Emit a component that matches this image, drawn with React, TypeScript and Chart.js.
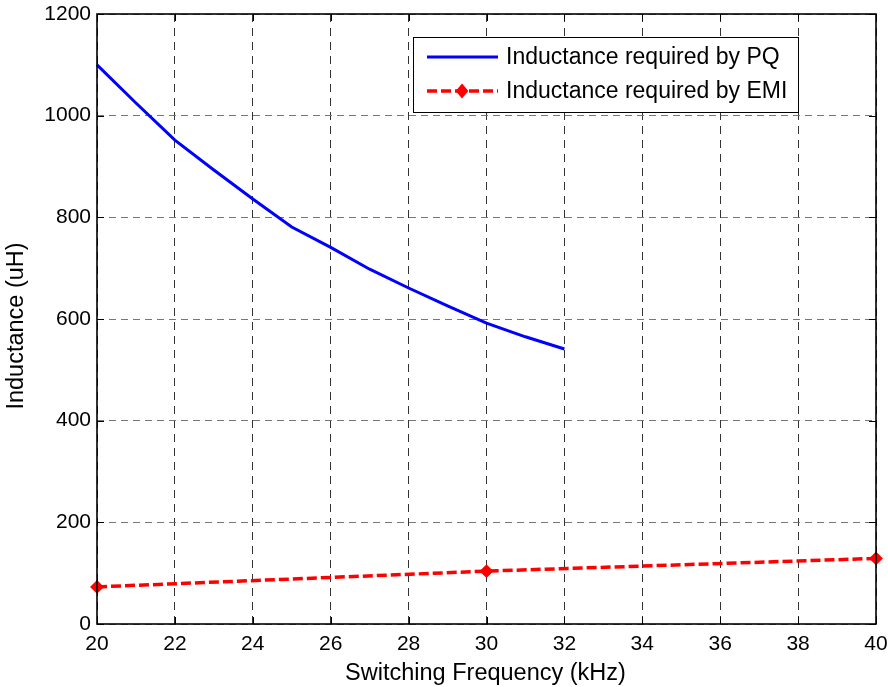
import React, { useEffect, useRef } from "react";
import { Chart, registerables } from "chart.js";

Chart.register(...registerables);

// ---- data ----
const pqFreq = [20, 21, 22, 23, 24, 25, 26, 27, 28, 29, 30, 31, 32];
const pqInductance = [1100, 1025, 952, 893, 836, 781, 741, 698, 661, 626, 592, 565, 541];
const emiFreq = [20, 30, 40];
const emiInductance = [73, 104, 129];
const xTicks = [20, 22, 24, 26, 28, 30, 32, 34, 36, 38, 40];
const yTicks = [0, 200, 400, 600, 800, 1000, 1200];
const seriesLabels = ["Inductance required by PQ", "Inductance required by EMI"];
const xTitle = "Switching Frequency (kHz)";
const yTitle = "Inductance (uH)";

const FONT = '"Liberation Sans", Arial, Helvetica, sans-serif';

const framePlugin = {
  id: "frame",
  afterDatasetsDraw(chart: any) {
    const { ctx, chartArea } = chart;
    const { left, right, top, bottom } = chartArea;
    const xs = chart.scales.x;
    const ys = chart.scales.y;
    ctx.save();
    // inward ticks
    ctx.strokeStyle = "#000";
    ctx.lineWidth = 1;
    const tl = 7;
    xTicks.forEach((v) => {
      const px = Math.round(xs.getPixelForValue(v)) + 0.5;
      ctx.beginPath();
      ctx.moveTo(px, bottom);
      ctx.lineTo(px, bottom - tl);
      ctx.moveTo(px, top);
      ctx.lineTo(px, top + tl);
      ctx.stroke();
    });
    yTicks.forEach((v) => {
      const py = Math.round(ys.getPixelForValue(v)) + 0.5;
      ctx.beginPath();
      ctx.moveTo(left, py);
      ctx.lineTo(left + tl, py);
      ctx.moveTo(right, py);
      ctx.lineTo(right - tl, py);
      ctx.stroke();
    });
    // box
    ctx.lineWidth = 1.6;
    ctx.strokeStyle = "#000";
    ctx.strokeRect(left, top, right - left, bottom - top);

    // titles
    ctx.fillStyle = "#000";
    ctx.font = `23.5px ${FONT}`;
    ctx.textAlign = "center";
    ctx.textBaseline = "middle";
    ctx.fillText(xTitle, (left + right) / 2 - 1, 674);
    ctx.save();
    ctx.translate(17, 326);
    ctx.rotate(-Math.PI / 2);
    ctx.fillText(yTitle, 0, 0);
    ctx.restore();

    // legend
    const lx = 413, ly = 37, lw = 385, lh = 75;
    ctx.fillStyle = "#fff";
    ctx.fillRect(lx, ly, lw, lh);
    ctx.lineWidth = 1;
    ctx.strokeStyle = "#000";
    ctx.strokeRect(lx + 0.5, ly + 0.5, lw, lh);
    const ds = chart.data.datasets;
    const rows = [57, 91];
    rows.forEach((ry, i) => {
      const d = ds[i];
      ctx.save();
      ctx.strokeStyle = d.borderColor;
      ctx.lineWidth = d.borderWidth;
      ctx.setLineDash(d.borderDash || []);
      ctx.beginPath();
      ctx.moveTo(427, ry);
      ctx.lineTo(498, ry);
      ctx.stroke();
      ctx.restore();
      if (d.pointRadius > 0) {
        ctx.save();
        ctx.fillStyle = d.pointBackgroundColor;
        ctx.strokeStyle = d.pointBorderColor;
        ctx.lineWidth = 2;
        const cx = 462, r = 5;
        ctx.beginPath();
        ctx.moveTo(cx, ry - r - 1);
        ctx.lineTo(cx + r, ry);
        ctx.lineTo(cx, ry + r + 1);
        ctx.lineTo(cx - r, ry);
        ctx.closePath();
        ctx.fill();
        ctx.stroke();
        ctx.restore();
      }
      ctx.fillStyle = "#000";
      ctx.font = `23px ${FONT}`;
      ctx.textAlign = "left";
      ctx.textBaseline = "middle";
      ctx.fillText(d.label, 506, ry + 1);
    });
    ctx.restore();
  },
};

export default function App() {
  const ref = useRef<HTMLCanvasElement | null>(null);
  useEffect(() => {
    if (!ref.current) return;
    const chart = new Chart(ref.current, {
      type: "line",
      data: {
        datasets: [
          {
            label: seriesLabels[0],
            data: pqFreq.map((x, i) => ({ x, y: pqInductance[i] })),
            borderColor: "#0000ff",
            backgroundColor: "#0000ff",
            borderWidth: 3,
            pointRadius: 0,
            tension: 0,
            clip: false as any,
          },
          {
            label: seriesLabels[1],
            data: emiFreq.map((x, i) => ({ x, y: emiInductance[i] })),
            borderColor: "#ff0000",
            backgroundColor: "#ff0000",
            borderWidth: 3.5,
            borderDash: [10, 4],
            pointRadius: 5.5,
            pointStyle: "rectRot",
            pointBackgroundColor: "#ff0000",
            pointBorderColor: "#ff0000",
            pointBorderWidth: 2,
            tension: 0,
            clip: false as any,
          },
        ] as any,
      },
      options: {
        animation: false,
        responsive: false,
        layout: { padding: { left: 0, right: 12, top: 14, bottom: 0 } },
        plugins: { legend: { display: false }, tooltip: { enabled: false } },
        scales: {
          x: {
            type: "linear",
            min: 20,
            max: 40,
            afterBuildTicks: (s: any) => {
              s.ticks = xTicks.map((v) => ({ value: v }));
            },
            afterFit: (s: any) => {
              s.height = 63;
              s.paddingLeft = 0;
              s.paddingRight = 0;
            },
            ticks: {
              color: "#000",
              font: { family: FONT, size: 21 },
              padding: 8,
              maxRotation: 0,
              autoSkip: false,
              callback: (v: any) => String(v),
            },
            grid: { color: "#333", lineWidth: 1, drawTicks: false },
            border: { display: false, dash: [8, 6] },
          },
          y: {
            type: "linear",
            min: 0,
            max: 1200,
            afterBuildTicks: (s: any) => {
              s.ticks = yTicks.map((v) => ({ value: v }));
            },
            afterFit: (s: any) => {
              s.width = 97;
              s.paddingTop = 0;
              s.paddingBottom = 0;
            },
            ticks: {
              color: "#000",
              font: { family: FONT, size: 21 },
              padding: 6,
              autoSkip: false,
              callback: (v: any) => String(v),
            },
            grid: { color: "#777", lineWidth: 1, drawTicks: false },
            border: { display: false, dash: [7, 5] },
          },
        },
      },
      plugins: [framePlugin],
    } as any);
    return () => chart.destroy();
  }, []);
  return (
    <div style={{ position: "absolute", left: 0, top: 0, width: 888, height: 687, background: "#fff" }}>
      <canvas ref={ref} width={888} height={687} />
    </div>
  );
}
